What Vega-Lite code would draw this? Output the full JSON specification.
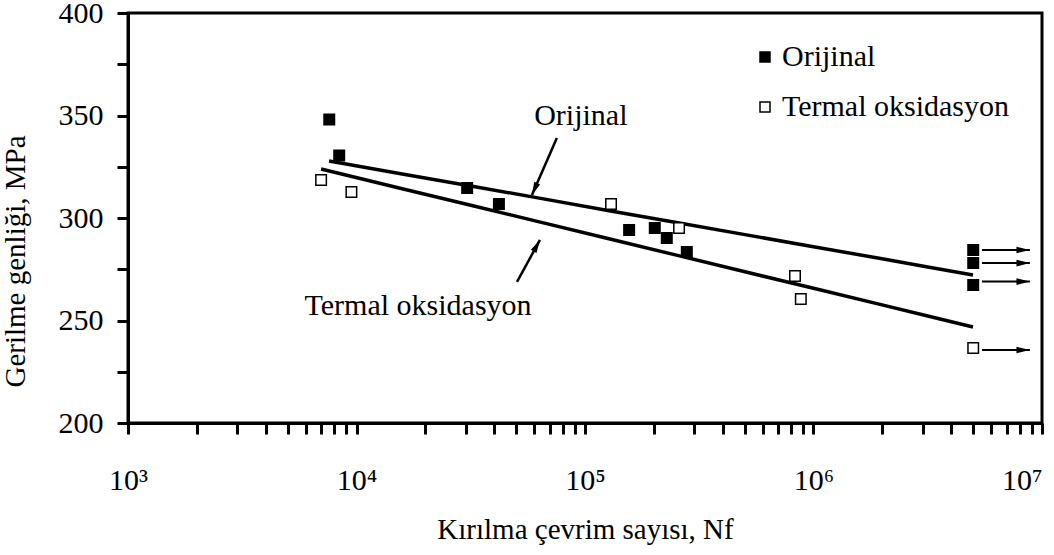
{
  "$schema": "https://vega.github.io/schema/vega-lite/v6.json",
  "width": 914,
  "height": 410,
  "autosize": {"type": "none"},
  "padding": {"left": 128, "top": 13, "right": 12, "bottom": 132},
  "background": "white",
  "config": {
    "view": {"stroke": "black", "strokeWidth": 3},
    "font": "Liberation Serif",
    "axis": {
      "domainColor": "black", "domainWidth": 3,
      "tickColor": "black", "tickWidth": 3, "tickSize": 11,
      "labelFont": "Liberation Serif", "labelFontSize": 30, "labelColor": "black",
      "titleFont": "Liberation Serif", "titleFontSize": 29, "titleFontWeight": "normal", "titleColor": "black",
      "grid": false
    },
    "legend": {
      "labelFont": "Liberation Serif", "labelFontSize": 30, "labelColor": "black", "labelLimit": 0
    }
  },
  "datasets": {
    "obs": [
      {"N": 7600, "S": 348, "series": "Orijinal"},
      {"N": 8400, "S": 330.5, "series": "Orijinal"},
      {"N": 30500, "S": 314.6, "series": "Orijinal"},
      {"N": 42000, "S": 306.8, "series": "Orijinal"},
      {"N": 156000, "S": 294.1, "series": "Orijinal"},
      {"N": 202000, "S": 295.1, "series": "Orijinal"},
      {"N": 228000, "S": 290.2, "series": "Orijinal"},
      {"N": 279000, "S": 283.4, "series": "Orijinal"},
      {"N": 5000000, "S": 284.4, "series": "Orijinal"},
      {"N": 5000000, "S": 278, "series": "Orijinal"},
      {"N": 5000000, "S": 267.3, "series": "Orijinal"},
      {"N": 7000, "S": 318.5, "series": "Termal oksidasyon"},
      {"N": 9500, "S": 312.7, "series": "Termal oksidasyon"},
      {"N": 130000, "S": 306.8, "series": "Termal oksidasyon"},
      {"N": 258000, "S": 295.1, "series": "Termal oksidasyon"},
      {"N": 830000, "S": 271.7, "series": "Termal oksidasyon"},
      {"N": 880000, "S": 260.5, "series": "Termal oksidasyon"},
      {"N": 5000000, "S": 236.6, "series": "Termal oksidasyon"}
    ],
    "fit": [
      {"N": 7586, "S": 327.8, "fit": "Orijinal"},
      {"N": 15849, "S": 321.5, "fit": "Orijinal"},
      {"N": 31623, "S": 315.6, "fit": "Orijinal"},
      {"N": 63096, "S": 309.7, "fit": "Orijinal"},
      {"N": 125893, "S": 303.7, "fit": "Orijinal"},
      {"N": 251189, "S": 297.8, "fit": "Orijinal"},
      {"N": 501187, "S": 291.9, "fit": "Orijinal"},
      {"N": 1000000, "S": 286.0, "fit": "Orijinal"},
      {"N": 1995262, "S": 280.1, "fit": "Orijinal"},
      {"N": 3162278, "S": 276.1, "fit": "Orijinal"},
      {"N": 4988845, "S": 272.2, "fit": "Orijinal"},
      {"N": 7000, "S": 323.9, "fit": "Termal oksidasyon"},
      {"N": 15849, "S": 314.3, "fit": "Termal oksidasyon"},
      {"N": 31623, "S": 306.2, "fit": "Termal oksidasyon"},
      {"N": 63096, "S": 298.1, "fit": "Termal oksidasyon"},
      {"N": 125893, "S": 290.0, "fit": "Termal oksidasyon"},
      {"N": 251189, "S": 281.9, "fit": "Termal oksidasyon"},
      {"N": 501187, "S": 273.8, "fit": "Termal oksidasyon"},
      {"N": 1000000, "S": 265.7, "fit": "Termal oksidasyon"},
      {"N": 1995262, "S": 257.6, "fit": "Termal oksidasyon"},
      {"N": 3162278, "S": 252.2, "fit": "Termal oksidasyon"},
      {"N": 4988845, "S": 246.8, "fit": "Termal oksidasyon"}
    ],
    "runout": [
      {"N": 5460000, "N2": 8850000, "S": 284.4},
      {"N": 5460000, "N2": 8850000, "S": 278.0},
      {"N": 5460000, "N2": 8850000, "S": 269.0},
      {"N": 5460000, "N2": 8850000, "S": 235.6}
    ],
    "notes": [
      {"N": 95900, "S": 345.4, "text": "Orijinal"},
      {"N": 18600, "S": 252.7, "text": "Termal oksidasyon"}
    ],
    "pointers": [
      {"N": 75300, "S": 339.0, "Ntip": 58600, "Stip": 311.2, "target": "Orijinal"},
      {"N": 50400, "S": 268.8, "Ntip": 63500, "Stip": 289.3, "target": "Termal oksidasyon"}
    ]
  },
  "layer": [
    {
      "data": {"name": "fit"},
      "mark": {"type": "line", "color": "black", "strokeWidth": 3.5},
      "encoding": {
        "x": {
          "field": "N", "type": "quantitative",
          "scale": {"type": "log", "domain": [1000, 10000000], "nice": false},
          "axis": {
            "title": "Kırılma çevrim sayısı, Nf",
            "values": [1000, 2000, 3000, 4000, 5000, 6000, 7000, 8000, 9000, 10000, 20000, 30000, 40000, 50000, 60000, 70000, 80000, 90000, 100000, 200000, 300000, 400000, 500000, 600000, 700000, 800000, 900000, 1000000, 2000000, 3000000, 4000000, 5000000, 6000000, 7000000, 8000000, 9000000, 10000000],
            "labelExpr": "indexof([1000, 10000, 100000, 1000000, 10000000], datum.value) >= 0 ? '10' + ['⁰','¹','²','³','⁴','⁵','⁶','⁷'][round(log(datum.value) / LN10)] : ''",
            "labelAlign": {"condition": {"test": "datum.value >= 10000000", "value": "right"}, "value": "center"},
            "labelOverlap": false,
            "labelFlush": false,
            "labelPadding": 31,
            "titlePadding": 20
          }
        },
        "y": {
          "field": "S", "type": "quantitative",
          "scale": {"domain": [200, 400], "nice": false, "zero": false},
          "axis": {
            "title": "Gerilme genliği, MPa",
            "values": [200, 225, 250, 275, 300, 325, 350, 375, 400],
            "labelExpr": "datum.value % 50 == 0 ? datum.label : ''",
            "labelPadding": 14,
            "titlePadding": 28,
            "titleY": 248
          }
        },
        "detail": {"field": "fit"}
      }
    },
    {
      "data": {"name": "obs"},
      "mark": {"type": "square", "stroke": "black", "strokeWidth": 1.5, "size": 110, "opacity": 1},
      "encoding": {
        "x": {"field": "N", "type": "quantitative"},
        "y": {"field": "S", "type": "quantitative"},
        "fill": {
          "field": "series", "type": "nominal",
          "scale": {"domain": ["Orijinal", "Termal oksidasyon"], "range": ["black", "white"]},
          "legend": {
            "title": null,
            "orient": "none",
            "legendX": 622,
            "legendY": 29,
            "symbolType": "square",
            "symbolSize": 100,
            "symbolStrokeColor": "black",
            "symbolStrokeWidth": 1.5,
            "symbolOpacity": 1,
            "rowPadding": 20,
            "labelOffset": 2,
            "padding": 0
          }
        }
      }
    },
    {
      "data": {"name": "runout"},
      "mark": {"type": "rule", "color": "black", "strokeWidth": 2},
      "encoding": {
        "x": {"field": "N", "type": "quantitative"},
        "x2": {"field": "N2"},
        "y": {"field": "S", "type": "quantitative"}
      }
    },
    {
      "data": {"name": "runout"},
      "mark": {"type": "point", "shape": "M 0 0 L -2 -0.5 L -2 0.5 Z", "filled": true, "color": "black", "opacity": 1, "size": 180},
      "encoding": {
        "x": {"field": "N2", "type": "quantitative"},
        "y": {"field": "S", "type": "quantitative"}
      }
    },
    {
      "data": {"name": "notes"},
      "mark": {"type": "text", "font": "Liberation Serif", "fontSize": 30, "color": "black", "align": "center", "baseline": "alphabetic"},
      "encoding": {
        "x": {"field": "N", "type": "quantitative"},
        "y": {"field": "S", "type": "quantitative"},
        "text": {"field": "text"}
      }
    },
    {
      "data": {"name": "pointers"},
      "mark": {"type": "rule", "color": "black", "strokeWidth": 2.5},
      "encoding": {
        "x": {"field": "N", "type": "quantitative"},
        "y": {"field": "S", "type": "quantitative"},
        "x2": {"field": "Ntip"},
        "y2": {"field": "Stip"}
      }
    },
    {
      "data": {"name": "pointers"},
      "transform": [{"filter": "datum.target == 'Orijinal'"}],
      "mark": {"type": "point", "shape": "M 0 0 L -0.5 2 L 0.5 2 Z", "filled": true, "color": "black", "opacity": 1, "size": 169, "angle": 203.7},
      "encoding": {
        "x": {"field": "Ntip", "type": "quantitative"},
        "y": {"field": "Stip", "type": "quantitative"}
      }
    },
    {
      "data": {"name": "pointers"},
      "transform": [{"filter": "datum.target == 'Termal oksidasyon'"}],
      "mark": {"type": "point", "shape": "M 0 0 L -0.5 2 L 0.5 2 Z", "filled": true, "color": "black", "opacity": 1, "size": 169, "angle": 28.7},
      "encoding": {
        "x": {"field": "Ntip", "type": "quantitative"},
        "y": {"field": "Stip", "type": "quantitative"}
      }
    }
  ]
}
